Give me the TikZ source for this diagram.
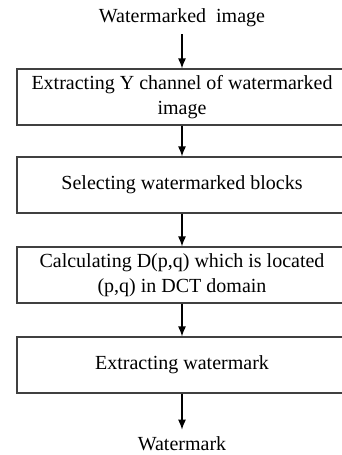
\documentclass[tikz,border=0pt]{standalone}
\usepackage{fontspec}
\setmainfont{Liberation Serif}
\usetikzlibrary{arrows.meta}

\begin{document}
\begin{tikzpicture}[x=0.5pt, y=-0.5pt, line width=0.6pt,
		stage/.style={draw=black!75, minimum width=165pt, minimum height=28pt, align=center, inner sep=0pt, font=\fontsize{10}{12.5}\selectfont},
		io/.style={font=\fontsize{10}{12.5}\selectfont},
		flow/.style={-{Latex[length=5pt, width=4pt]}}]
			\useasboundingbox (0, 0) rectangle (342, 455);
			
			\node[io] (input) at (182, 18) {Watermarked~ image};
			\node[stage] (ychan) at (182, 97) {Extracting Y channel of watermarked\\image};
			\node[stage] (blocks) at (182, 185) {Selecting watermarked blocks};
			\node[stage] (dct) at (182, 275) {Calculating D(p,q) which is located\\(p,q) in DCT domain};
			\node[stage] (extract) at (182, 365) {Extracting watermark};
			\node[io] (output) at (182, 444) {Watermark};
			
			\draw[flow] (input) -- (ychan);
			\draw[flow] (ychan) -- (blocks);
			\draw[flow] (blocks) -- (dct);
			\draw[flow] (dct) -- (extract);
			\draw[flow] (extract) -- (output);
		\end{tikzpicture}
\end{document}
